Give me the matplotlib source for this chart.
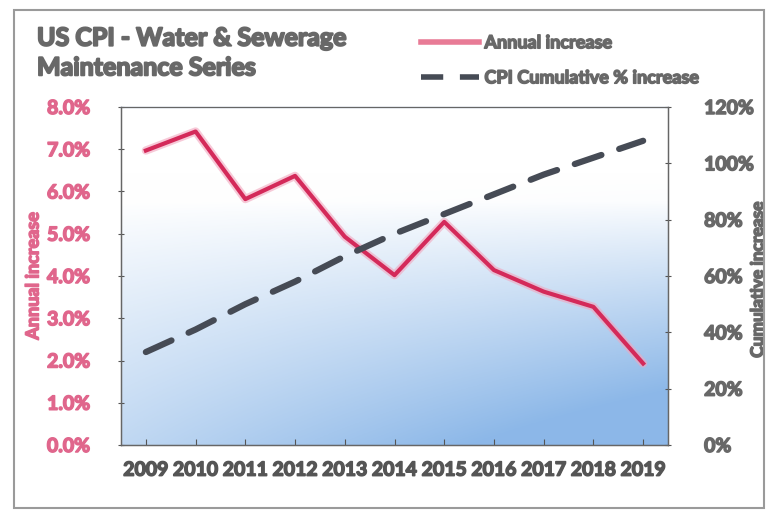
import matplotlib.pyplot as plt
import matplotlib.patheffects as pe
import numpy as np
from matplotlib.lines import Line2D
from matplotlib.patches import Rectangle

years = ["2009", "2010", "2011", "2012", "2013", "2014",
         "2015", "2016", "2017", "2018", "2019"]
annual_pct = [6.97, 7.42, 5.82, 6.37, 4.93, 4.02, 5.28, 4.14, 3.63, 3.27, 1.93]
cumulative_pct = [33, 41, 50, 58, 67, 75, 82, 89, 96, 102, 108]

pink = "#e0668c"
red_line = "#d42a5a"
dash_col = "#464b55"
grey_txt = "#686868"
W = "bold"


def heavy(color, w=1.1):
    # thicken the glyphs a little
    return [pe.withStroke(linewidth=w, foreground=color)]


plt.rcParams["font.family"] = ["Lato", "DejaVu Sans"]

fig = plt.figure(figsize=(7.69, 5.16), dpi=100)
ax = fig.add_axes([121 / 769, 1 - 445 / 516, 547 / 769, 338 / 516])

# white-to-blue backdrop of the plot area (row 0 = top)
ny, nx = 200, 200
yy, xx = np.mgrid[0:1:ny * 1j, 0:1:nx * 1j]
t = np.clip((yy - 0.28) / 0.72, 0, 1) ** 0.9 * (0.55 + 0.45 * xx)
t = np.clip(t + 0.25 * np.clip((yy - 0.2) / 0.8, 0, 1) * xx, 0, 1)
top = np.array([1.0, 1.0, 1.0])
bot = np.array([0.55, 0.72, 0.91])
img = top + (bot - top) * t[..., None]
ax.imshow(img, extent=[0, 1, 0, 1], transform=ax.transAxes, origin="upper",
          aspect="auto", zorder=0)

x = np.arange(len(years))
ax.plot(x, annual_pct, color="#f2a6be", lw=6, alpha=0.6, zorder=3,
        solid_capstyle="round")
ax.plot(x, annual_pct, color=red_line, lw=3, zorder=4)
ax.set_xlim(-0.5, len(years) - 0.5)
ax.set_ylim(0, 8)
ax.set_yticks(np.arange(0, 8.01, 1))
ax.set_yticklabels([f"{v:.1f}%" for v in np.arange(0, 8.01, 1)],
                   color=pink, fontsize=14, fontweight=W)
for lab in ax.get_yticklabels():
    lab.set_path_effects(heavy(pink))
ax.set_xticks(x)
ax.set_xticklabels(years, color="#555555", fontsize=14, fontweight=W)
for lab in ax.get_xticklabels():
    lab.set_path_effects(heavy("#555555"))
ax.tick_params(axis="y", length=4, direction="inout", color="#555555", pad=20)
ax.tick_params(axis="x", length=4, direction="in", color="#555555", pad=12)
ax.set_ylabel("Annual increase", color=pink, fontsize=13, fontweight=W,
              path_effects=heavy(pink))
ax.yaxis.set_label_coords((33 - 121) / 547, 0.5)
ax.yaxis.label.set_va("center")
for s in ax.spines.values():
    s.set_color("#666666")
    s.set_linewidth(1)
ax.spines["top"].set_color("#9aaac0")

ax2 = ax.twinx()
ax2.plot(x, cumulative_pct, color=dash_col, lw=4.5, dashes=(4.5, 3),
         dash_capstyle="round", zorder=5)
ax2.set_ylim(0, 120)
ax2.set_yticks(np.arange(0, 121, 20))
ax2.set_yticklabels([f"{v}%" for v in range(0, 121, 20)],
                    color=grey_txt, fontsize=14, fontweight=W)
for lab in ax2.get_yticklabels():
    lab.set_path_effects(heavy(grey_txt))
ax2.tick_params(axis="y", length=4, direction="inout", color="#555555", pad=24)
ax2.set_ylabel("Cumulative increase", color=grey_txt, fontsize=12.5,
               fontweight=W, path_effects=heavy(grey_txt))
ax2.yaxis.set_label_coords((758 - 121) / 547, 0.49)
ax2.yaxis.label.set_va("center")
for s in ax2.spines.values():
    s.set_color("#666666")

fig.text(37 / 769, 1 - 53 / 516, "US CPI - Water & Sewerage\nMaintenance Series",
         color=grey_txt, fontsize=18, fontweight=W, va="center",
         linespacing=1.35, path_effects=heavy(grey_txt, 1.4))

handles = [Line2D([], [], color="#e87b96", lw=4),
           Line2D([], [], color=dash_col, lw=4, dashes=(4, 3))]
leg = fig.legend(handles, ["Annual increase", "CPI Cumulative % increase"],
                 loc="upper left", bbox_to_anchor=(405 / 769, 1 - 18 / 516),
                 frameon=False, labelcolor=grey_txt, handlelength=3.2,
                 prop={"weight": W, "size": 13}, labelspacing=1.0,
                 handletextpad=0.3)
for txt in leg.get_texts():
    txt.set_path_effects(heavy(grey_txt))

# frame around the whole chart
fig.patches.append(Rectangle((14 / 769, 8 / 516), 750 / 769, 498 / 516,
                             transform=fig.transFigure, fill=False,
                             edgecolor="#9a9a9a", lw=1.5))

fig.savefig("out.png", dpi=100)
